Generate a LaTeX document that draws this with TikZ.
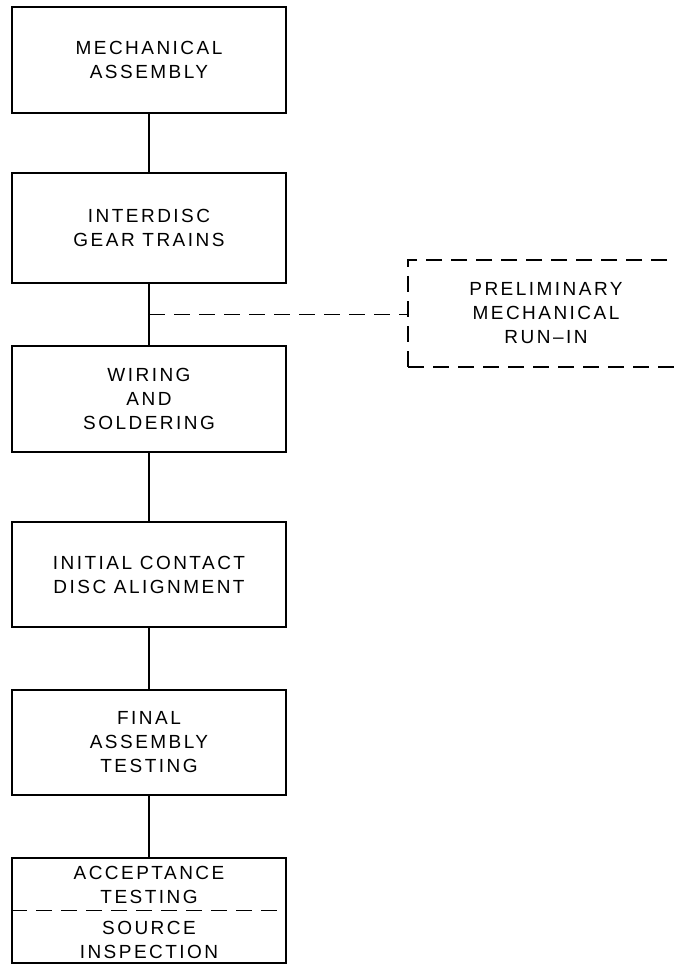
\documentclass[tikz,border=0pt]{standalone}
\usepackage{fontspec}
\setmainfont{Liberation Sans}[LetterSpace=13]
\usepackage{tikz}
\usetikzlibrary{calc,positioning}

\begin{document}
\begin{tikzpicture}[x=1pt, y=-1pt, line width=1.2pt,
    stage/.style={rectangle, draw, minimum width=274pt, minimum height=106pt,
        align=center, inner sep=0pt, font=\fontsize{19}{24}\selectfont},
    stagetext/.style={align=center, inner sep=0pt, font=\fontsize{19}{24}\selectfont},
    dashline/.style={dash pattern=on 16pt off 9pt}]
    \useasboundingbox (0,0) rectangle (676,965);
    \clip (0,0) rectangle (676,965);

    % Stages
    \node[stage] (mech) at (149,60) {MECHANICAL\\ASSEMBLY};
    \node[stage, minimum height=110pt] (gear) at (149,228) {INTERDISC\\GEAR TRAINS};
    \node[stage] (wire) at (149,399) {WIRING\\AND\\SOLDERING};
    \node[stage, minimum height=105pt] (align) at (149,574.5) {INITIAL CONTACT\\DISC ALIGNMENT};
    \node[stage, minimum height=105pt] (final) at (149,742.5) {FINAL\\ASSEMBLY\\TESTING};
    \node[stage, minimum height=105pt] (accept) at (149,910.5) {};
    \node[stagetext] (acctext) at (149,885) {ACCEPTANCE\\TESTING};
    \node[stagetext] (srctext) at (149,940) {SOURCE\\INSPECTION};

    % Side step
    \node[stage, dashline, minimum width=276pt, minimum height=107pt] (runin) at (546,313.5)
        {PRELIMINARY\\MECHANICAL\\RUN–IN};

    % Edges
    \draw (mech) -- (gear);
    \draw (gear) -- (wire);
    \draw (wire) -- (align);
    \draw (align) -- (final);
    \draw (final) -- (accept);
    \coordinate (tap) at ($(gear.south)!0.5!(wire.north)$);
    \draw[dashline] (tap) -- (tap -| runin.west);
    \draw[dashline] (accept.west) -- (accept.east);
\end{tikzpicture}
\end{document}
